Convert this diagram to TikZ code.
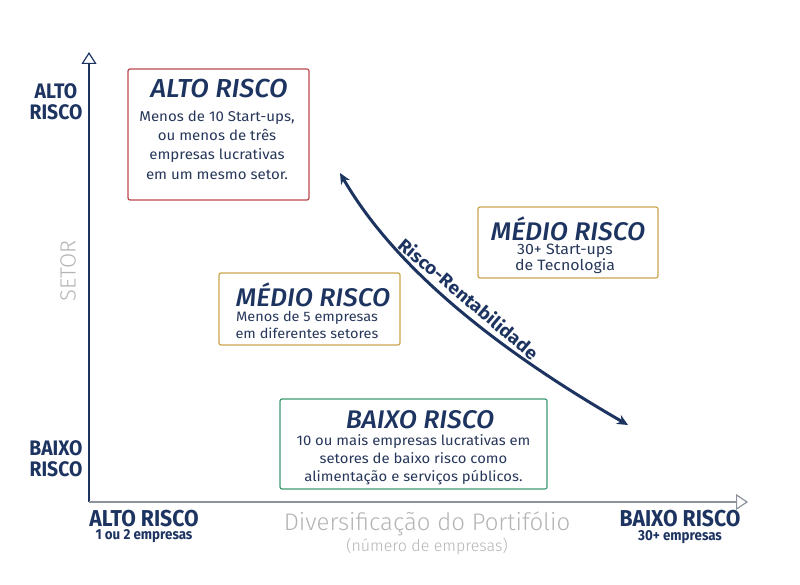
\documentclass[tikz,border=0pt]{standalone}
\usepackage{fontspec}
\setmainfont{Fira Sans}
\newfontfamily\lightfont{Fira Sans Light}
\newfontfamily\condfont[FakeStretch=0.92]{Fira Sans}
\newfontfamily\widefont[FakeStretch=1.06]{Fira Sans}
\newfontfamily\titlefont[FakeStretch=1.04]{Fira Sans Medium}
\usetikzlibrary{arrows.meta, positioning}

\definecolor{navy}{HTML}{1D3461}
\definecolor{bodyblue}{HTML}{27375A}
\definecolor{redline}{HTML}{B9474F}
\definecolor{goldline}{HTML}{C9A54B}
\definecolor{greenline}{HTML}{3C9A70}
\definecolor{axisgray}{HTML}{8D939C}
\definecolor{lightgray}{HTML}{B4B4B4}

\begin{document}
\begin{tikzpicture}[x=1pt, y=1pt,
  box/.style={draw=#1, line width=1.2pt, rounded corners=2pt, inner sep=0pt},
  boxtitle/.style={text=navy, font=\fontsize{#1}{30}\titlefont\itshape, inner sep=0pt},
  boxtitle/.default=25.5,
  boxtext/.style 2 args={text=bodyblue, align=center, inner sep=0pt, font=\fontsize{#1}{#2}\widefont},
  axislbl/.style={text=navy, align=center, inner sep=0pt, font=\fontsize{#1}{21}\condfont\bfseries},
  axislbl/.default=21,
  axissub/.style={text=navy, inner sep=0pt, font=\fontsize{14.5}{15}\condfont\bfseries},
  graylbl/.style={text=lightgray, inner sep=0pt, font=\fontsize{#1}{#1}\lightfont},
  rr/.style={draw=navy, line width=3pt, {Stealth[length=11pt, width=10pt]}-{Stealth[length=11pt, width=10pt]}},
  rrlabel/.style={text=navy, inner sep=5.5pt, font=\fontsize{18}{20}\widefont\bfseries}]

\useasboundingbox (0,0) rectangle (800,-585);

% axes
\coordinate (O) at (89,-502);
\coordinate (ytop) at (89,-52);
\coordinate (xend) at (748,-502);
\draw[navy, line width=1.5pt, -{Triangle[open, length=12pt, width=15pt, line width=1.2pt, fill=white]}] (O) -- (ytop);
\draw[axisgray, line width=2.5pt, -{Triangle[open, length=12pt, width=16pt, line width=1.2pt, fill=white]}] (O) -- (xend);

\node[axislbl] (yhi) at (56,-102) {ALTO\\RISCO};
\node[axislbl] (ylo) at (56,-459) {BAIXO\\RISCO};
\node[graylbl=22, rotate=90] (setor) at (68,-271) {SETOR};

\node[axislbl=23] (xlo) at (144,-519) {ALTO RISCO};
\node[axissub] (xlosub) at (144,-536) {1 ou 2 empresas};
\node[axislbl=23] (xhi) at (680,-519) {BAIXO RISCO};
\node[axissub] (xhisub) at (680,-537) {30+ empresas};
\node[graylbl=24] (xtitle) at (427,-524) {Diversificação do Portifólio};
\node[graylbl=16] (xsub) at (427,-546) {(número de empresas)};

% boxes
\node[box=redline, minimum width=181, minimum height=131] (alto) at (218.5,-134.5) {};
\node[boxtitle=26] (altoT) at (219,-89) {ALTO RISCO};
\node[boxtext={14.2}{19.3}] (altoB) at (217,-145) {Menos de 10 Start-ups,\\ou menos de três\\empresas lucrativas\\em um mesmo setor.};

\node[box=goldline, minimum width=181, minimum height=72] (medioL) at (309.5,-309) {};
\node[boxtitle] (medioLT) at (313,-295) {MÉDIO RISCO};
\node[boxtext={13.7}{16.5}] (medioLB) at (307,-325) {Menos de 5 empresas\\em diferentes setores};

\node[box=goldline, minimum width=180, minimum height=71] (medioR) at (568,-242.5) {};
\node[boxtitle] (medioRT) at (568,-229) {MÉDIO RISCO};
\node[boxtext={15}{13}] (medioRB) at (565,-259) {30+ Start-ups\\de Tecnologia};

\node[box=greenline, minimum width=267, minimum height=90] (baixo) at (413.5,-444) {};
\node[boxtitle] (baixoT) at (420,-420) {BAIXO RISCO};
\node[boxtext={14}{18}] (baixoB) at (413.5,-460) {10 ou mais empresas lucrativas em\\setores de baixo risco como\\alimentação e serviços públicos.};

% risco-rentabilidade
\coordinate (rrA) at (340,-173);
\coordinate (rrB) at (628,-425);
\draw[rr] (rrA) .. controls (402.5,-281.3) and (524,-365) .. node[pos=0.47, sloped, above, rrlabel] (rrL) {Risco-Rentabilidade} (rrB);

\end{tikzpicture}
\end{document}
